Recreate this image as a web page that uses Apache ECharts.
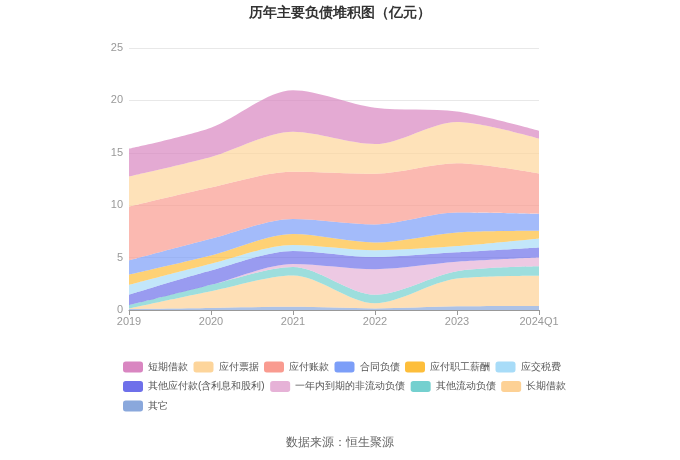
<!DOCTYPE html>
<html>
<head>
<meta charset="utf-8">
<script src="https://cdn.jsdelivr.net/npm/echarts@6/dist/echarts.min.js"></script>
<style>html,body{margin:0;padding:0;background:#fff;}#main{width:680px;height:460px;}</style>
</head>
<body>
<div id="main"></div>
<script>
const categories = ['2019', '2020', '2021', '2022', '2023', '2024Q1'];
const yTicks = [0, 5, 10, 15, 20, 25];

// bottom to top
const qita = [0.10, 0.20, 0.30, 0.15, 0.35, 0.38];          // 其它
const changqiJiekuan = [0.05, 1.60, 3.00, 0.49, 2.65, 2.89]; // 长期借款
const qitaLiudong = [0.30, 0.60, 0.80, 0.81, 0.70, 0.90];    // 其他流动负债
const yinianNei = [0.00, 0.00, 0.30, 2.45, 0.90, 0.83];      // 一年内到期的非流动负债
const qitaYingfu = [1.02, 1.38, 1.24, 1.16, 0.90, 0.96];     // 其他应付款(含利息和股利)
const yingjiaoShui = [0.93, 0.64, 0.56, 0.64, 0.60, 0.87];   // 应交税费
const zhigongXinchou = [0.97, 0.78, 1.04, 0.74, 1.30, 0.73]; // 应付职工薪酬
const hetongFuzhai = [1.37, 1.60, 1.45, 1.73, 1.90, 1.61];   // 合同负债
const yingfuZhangkuan = [5.13, 4.90, 4.51, 4.83, 4.70, 3.86];// 应付账款
const yingfuPiaoju = [2.87, 2.90, 3.80, 2.83, 3.95, 3.33];   // 应付票据
const duanqiJiekuan = [2.66, 2.80, 3.97, 3.47, 0.98, 0.74];  // 短期借款

const stackDefs = [
  ['其它', qita, '#8aa8dc'],
  ['长期借款', changqiJiekuan, '#fdd195'],
  ['其他流动负债', qitaLiudong, '#74d0cf'],
  ['一年内到期的非流动负债', yinianNei, '#e6b2d7'],
  ['其他应付款(含利息和股利)', qitaYingfu, '#6e70ea'],
  ['应交税费', yingjiaoShui, '#a8dcf8'],
  ['应付职工薪酬', zhigongXinchou, '#fdbe3b'],
  ['合同负债', hetongFuzhai, '#7c9ef8'],
  ['应付账款', yingfuZhangkuan, '#f99b90'],
  ['应付票据', yingfuPiaoju, '#fdd59b'],
  ['短期借款', duanqiJiekuan, '#d986c1']
];
const legendOrder = ['短期借款', '应付票据', '应付账款', '合同负债', '应付职工薪酬', '应交税费',
  '其他应付款(含利息和股利)', '一年内到期的非流动负债', '其他流动负债', '长期借款', '其它'];

const chart = echarts.init(document.getElementById('main'), null, {renderer: 'canvas'});
chart.setOption({
  animation: false,
  backgroundColor: '#fff',
  title: {
    text: '历年主要负债堆积图（亿元）',
    left: 'center',
    top: 1,
    textStyle: {fontSize: 14, fontWeight: 'bold', color: '#333'}
  },
  graphic: [{
    type: 'text',
    left: 'center',
    top: 437,
    style: {text: '数据来源：恒生聚源', fontSize: 12, fill: '#666'}
  }],
  legend: {
    data: legendOrder,
    left: 123,
    top: 360,
    width: 450,
    padding: 0,
    icon: 'roundRect',
    itemWidth: 20,
    itemHeight: 11,
    itemGap: 5.5,
    textStyle: {fontSize: 10, color: '#555', lineHeight: 14}
  },
  grid: {left: 129, right: 141, top: 48, bottom: 150, containLabel: false},
  xAxis: {
    type: 'category',
    data: categories,
    boundaryGap: false,
    axisLine: {lineStyle: {color: '#999'}},
    axisTick: {show: true, lineStyle: {color: '#999'}},
    axisLabel: {color: '#999', fontSize: 11, margin: 6}
  },
  yAxis: {
    type: 'value',
    min: yTicks[0],
    max: yTicks[yTicks.length - 1],
    interval: 5,
    axisLine: {show: false},
    axisTick: {show: false},
    axisLabel: {color: '#999', fontSize: 11, margin: 6},
    splitLine: {lineStyle: {color: '#e8e8e8'}}
  },
  series: stackDefs.map(([name, data, color]) => ({
    name: name,
    type: 'line',
    stack: 'total',
    data: data,
    smooth: 0.3,
    symbol: 'none',
    lineStyle: {width: 0},
    itemStyle: {color: color},
    areaStyle: {color: color, opacity: 0.7}
  }))
});
</script>
</body>
</html>
